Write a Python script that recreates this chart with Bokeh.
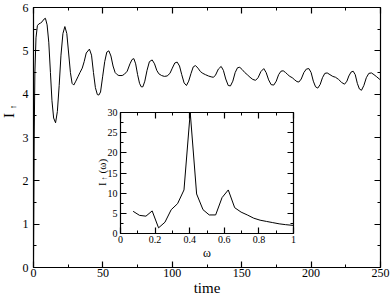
from math import pi
from bokeh.plotting import figure
from bokeh.models import Range1d, LinearAxis, SingleIntervalTicker, Label, CustomJSTickFormatter
from bokeh.embed import file_html
from bokeh.resources import INLINE

# ---- main time series I_up(t) ----
time = [0.0, 0.5, 1.0, 1.8, 2.8, 3.8, 5.0, 6.2, 7.5, 8.6, 9.8, 11.0, 12.2, 13.3, 14.5,
        15.9, 17.2, 18.5, 19.8, 21.2, 22.6, 24.0, 25.3, 26.6, 27.8, 29.0, 30.5, 32.0,
        33.5, 35.1, 36.5, 38.0, 40.3, 41.8, 43.2, 44.6, 46.0, 47.1, 48.3, 49.8, 51.3,
        52.8, 54.3, 55.8, 57.3, 58.8, 60.3, 61.5, 63.9, 65.5, 67.5, 69.5, 71.0, 72.3,
        73.6, 75.0, 76.4, 77.6, 78.8, 80.2, 81.8, 83.5, 85.5, 87.2, 88.8, 90.3, 92.3,
        94.3, 96.3, 98.3, 100.0, 101.8, 103.5, 105.2, 106.8, 108.5, 110.2, 111.8,
        113.5, 115.1, 116.7, 118.5, 120.3, 122.0, 123.9, 126.0, 128.0, 129.5, 131.0,
        133.2, 135.2, 136.8, 138.5, 140.3, 141.9, 143.6, 145.3, 147.0, 148.6, 150.3,
        152.2, 154.0, 156.0, 158.0, 160.0, 161.8, 163.8, 165.9, 167.6, 169.4, 171.2,
        173.1, 174.9, 176.6, 178.3, 179.9, 181.6, 183.2, 184.7, 186.4, 188.2, 189.8,
        191.2, 192.9, 194.8, 196.6, 198.4, 200.0, 201.6, 203.2, 204.8, 206.5, 208.2,
        209.9, 211.6, 213.6, 215.6, 217.6, 219.8, 222.0, 224.1, 225.8, 227.2, 228.8,
        230.3, 231.8, 233.3, 234.8, 236.3, 238.0, 239.8, 241.6, 243.5, 245.3, 247.3,
        249.5, 250.0]
current = [0.0, 3.0, 4.5, 5.3, 5.58, 5.62, 5.64, 5.67, 5.73, 5.75, 5.6, 5.2, 4.5, 3.85, 3.45,
           3.34, 3.6, 4.2, 4.9, 5.4, 5.56, 5.4, 4.95, 4.5, 4.25, 4.21, 4.3, 4.4,
           4.5, 4.6, 4.75, 4.95, 5.04, 4.9, 4.5, 4.15, 3.99, 3.98, 4.05, 4.4, 4.75,
           4.97, 5.0, 4.88, 4.65, 4.5, 4.45, 4.43, 4.43, 4.46, 4.53, 4.7, 4.8, 4.82,
           4.7, 4.45, 4.25, 4.17, 4.17, 4.3, 4.55, 4.75, 4.79, 4.7, 4.55, 4.47, 4.43,
           4.41, 4.42, 4.48, 4.6, 4.72, 4.74, 4.65, 4.45, 4.26, 4.2, 4.3,
           4.48, 4.63, 4.66, 4.6, 4.52, 4.48, 4.45, 4.42, 4.4, 4.39, 4.43,
           4.58, 4.64, 4.55, 4.35, 4.2, 4.19, 4.3, 4.5, 4.61, 4.62, 4.57,
           4.5, 4.45, 4.39, 4.34, 4.32, 4.38, 4.52, 4.59, 4.5, 4.33, 4.22,
           4.21, 4.3, 4.45, 4.53, 4.54, 4.5, 4.45, 4.41, 4.38, 4.33, 4.29,
           4.28, 4.35, 4.5, 4.58, 4.59, 4.5, 4.3, 4.17, 4.14, 4.22, 4.38,
           4.48, 4.49, 4.45, 4.41, 4.39, 4.34, 4.27, 4.23, 4.3, 4.42, 4.51,
           4.53, 4.45, 4.25, 4.12, 4.09, 4.2, 4.38, 4.48, 4.49, 4.45, 4.4,
           4.34, 4.33]

# ---- inset spectrum I_up(omega) ----
omega = [0.073, 0.110, 0.147, 0.183, 0.220, 0.257, 0.293, 0.330, 0.367, 0.403, 0.440,
         0.477, 0.513, 0.550, 0.587, 0.623, 0.660, 0.697, 0.733, 0.770, 0.807, 0.843,
         0.880, 0.917, 0.953, 1.0]
spectrum = [5.5, 4.5, 4.3, 5.6, 1.4, 2.8, 5.9, 7.4, 10.8, 30.0, 9.8,
            5.9, 4.6, 4.6, 8.9, 10.8, 6.4, 5.3, 4.6, 3.8, 3.3, 3.0,
            2.7, 2.4, 2.2, 2.0]

SERIF = "Liberation Serif"
W, H = 390, 300

# main axis box (data limits) and its placement on the canvas, in pixels
X0, X1 = 0, 250
Y0, Y1 = 0, 6
BOX_L, BOX_R, BOX_T, BOX_B = 33, 380, 7, 267

# inset axis box (data limits) and its placement on the canvas, in pixels
IX0, IX1, IY0, IY1 = 0.0, 1.0, 0.0, 30.0
IN_L, IN_R, IN_T, IN_B = 120, 293, 112, 233

sx = (X1 - X0) / (BOX_R - BOX_L)
sy = (Y1 - Y0) / (BOX_B - BOX_T)
main_x = Range1d(X0 - BOX_L * sx, X1 + (W - BOX_R) * sx)
main_y = Range1d(Y0 - (H - BOX_B) * sy, Y1 + BOX_T * sy)

isx = (IX1 - IX0) / (IN_R - IN_L)
isy = (IY1 - IY0) / (IN_B - IN_T)
inset_x = Range1d(IX0 - IN_L * isx, IX1 + (W - IN_R) * isx)
inset_y = Range1d(IY0 - (H - IN_B) * isy, IY1 + IN_T * isy)

p = figure(width=W, height=H, output_backend="svg", toolbar_location=None, title=None,
           x_range=main_x, y_range=main_y, x_axis_location=None, y_axis_location=None,
           min_border=0, background_fill_color="white", border_fill_color="white")
p.grid.visible = False
p.outline_line_color = None
p.extra_x_ranges = {"ix": inset_x}
p.extra_y_ranges = {"iy": inset_y}


def add_axis(side, loc, bounds, interval, size, maj, mino, show_labels, xr="default", yr="default", **kw):
    ax = LinearAxis(x_range_name=xr, y_range_name=yr, fixed_location=loc, bounds=bounds,
                    ticker=SingleIntervalTicker(interval=interval, num_minor_ticks=2), **kw)
    ax.axis_line_color = "black"
    ax.axis_line_width = 1.2
    ax.major_tick_line_color = "black"
    ax.minor_tick_line_color = "black"
    ax.major_tick_line_width = 1.2
    ax.minor_tick_line_width = 1.0
    ax.major_tick_in = maj
    ax.major_tick_out = 0
    ax.minor_tick_in = mino
    ax.minor_tick_out = 0
    ax.major_label_text_font = SERIF
    ax.major_label_text_font_size = size
    ax.major_label_text_color = "black" if show_labels else None
    ax.major_label_standoff = 3
    ax.axis_label_text_font = SERIF
    ax.axis_label_text_font_style = "normal"
    ax.axis_label_text_color = "black"
    p.add_layout(ax, side)
    return ax


# main box axes
xa = add_axis("below", Y0, (X0, X1), 50, "12px", 6, 3, True)
xa.major_label_standoff = 1
xa.axis_label = "time"
xa.axis_label_text_font_size = "15px"
xa.axis_label_standoff = 0
ya = add_axis("left", X0, (Y0, Y1), 1, "12px", 6, 3, True)
ya.major_label_standoff = 5
add_axis("above", Y1, (X0, X1), 50, "12px", 6, 3, False)
add_axis("right", X1, (Y0, Y1), 1, "12px", 6, 3, False)

# main curve
p.line(time, current, line_color="black", line_width=1)

# inset box axes
fmt = CustomJSTickFormatter(code="return (Math.round(tick*10)/10).toString();")
ib = add_axis("below", IY0, (IX0, IX1), 0.2, "10px", 6, 3, True, xr="ix", yr="iy", formatter=fmt)
ib.major_label_standoff = 2
ib.axis_label = "ω"
ib.axis_label_text_font_size = "12px"
ib.axis_label_standoff = 0
add_axis("left", IX0, (IY0, IY1), 5, "10px", 6, 3, True, xr="ix", yr="iy")
add_axis("above", IY1, (IX0, IX1), 0.2, "10px", 6, 3, False, xr="ix", yr="iy")
add_axis("right", IX1, (IY0, IY1), 5, "10px", 6, 3, False, xr="ix", yr="iy")

# inset curve
p.line(omega, spectrum, x_range_name="ix", y_range_name="iy", line_color="black", line_width=1)

# y-axis titles: I with a subscript up-arrow
p.add_layout(Label(x=X0, y=3.51, x_offset=-25, angle=pi / 2, text="I",
                   text_font=SERIF, text_font_size="15px", text_color="black",
                   text_align="center", text_baseline="alphabetic"))
p.add_layout(Label(x=X0, y=3.51, x_offset=-21, y_offset=8.5, angle=pi / 2, text="↑",
                   text_font=SERIF, text_font_size="9px", text_color="black",
                   text_align="center", text_baseline="alphabetic"))

p.add_layout(Label(x=IX0, y=15, x_range_name="ix", y_range_name="iy", x_offset=-19, y_offset=-13,
                   angle=pi / 2, text="I", text_font=SERIF, text_font_size="11px",
                   text_color="black", text_align="left", text_baseline="alphabetic"))
p.add_layout(Label(x=IX0, y=15, x_range_name="ix", y_range_name="iy", x_offset=-16, y_offset=-7.5,
                   angle=pi / 2, text="↑", text_font=SERIF, text_font_size="8px",
                   text_color="black", text_align="left", text_baseline="alphabetic"))
p.add_layout(Label(x=IX0, y=15, x_range_name="ix", y_range_name="iy", x_offset=-19, y_offset=-0.5,
                   angle=pi / 2, text="(ω)", text_font=SERIF, text_font_size="11px",
                   text_color="black", text_align="left", text_baseline="alphabetic"))

open("out.html", "w").write(file_html(p, INLINE))
